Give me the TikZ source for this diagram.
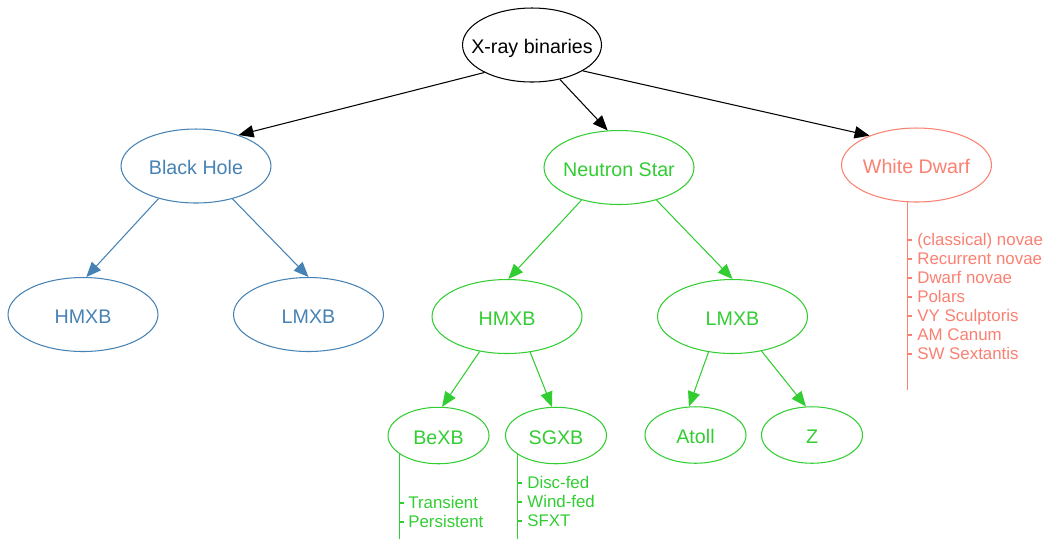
\documentclass[tikz,border=0pt]{standalone}
\usepackage{fontspec}
\setmainfont{Liberation Sans}
\usetikzlibrary{shapes.geometric}
\usetikzlibrary{arrows.meta}
\definecolor{bhblue}{RGB}{70,130,180}
\definecolor{nsgreen}{RGB}{50,205,50}
\definecolor{wdred}{RGB}{250,128,114}
\tikzset{
    class/.style={
        ellipse, draw,
        line width=0.6pt,
        inner sep=0pt, inner xsep=-8pt,
        minimum width=3cm, minimum height=1.48cm,
        text height=10pt, text depth=0pt,
        font=\fontsize{11.2}{13}\selectfont},
    subclass/.style={
        class,
        minimum width=2.02cm, minimum height=1.13cm},
    item/.style={
        anchor=west, inner sep=0pt,
        text height=6.8pt, text depth=0pt,
        font=\fontsize{9.6}{11}\selectfont},
    every edge/.style={
        draw,
        ->,>={Triangle[length=8.5pt,width=7pt]},
        line width=0.6pt}}

\begin{document}
\begin{tikzpicture}[x=0.02cm, y=-0.02cm]
        \useasboundingbox (0,0) rectangle (1050,539);

        \node[class, minimum width=2.78cm] (xrb) at (532,45) {X-ray binaries};
        \node[class, bhblue] (bh) at (196,166) {Black Hole};
        \node[class, nsgreen] (ns) at (619,167.5) {Neutron Star};
        \node[class, wdred] (wd) at (916.5,165) {White Dwarf};

        \node[class, bhblue] (bhh) at (83,314.5) {HMXB};
        \node[class, bhblue] (bhl) at (308.5,314.5) {LMXB};
        \node[class, nsgreen] (nsh) at (507,316.5) {HMXB};
        \node[class, nsgreen] (nsl) at (732.5,316.5) {LMXB};

        \node[subclass, nsgreen] (bexb) at (438.5,435.5) {BeXB};
        \node[subclass, nsgreen] (sgxb) at (556,435.5) {SGXB};
        \node[subclass, nsgreen] (atoll) at (695.5,435) {Atoll};
        \node[subclass, nsgreen] (z) at (812,435) {Z};

        \draw (xrb.210) edge (bh.36);
        \draw (xrb.-51) edge (ns.107);
        \draw (xrb.-27) edge (wd.148);

        \draw (bh.221) edge[bhblue] (bhh.85);
        \draw (bh.-42) edge[bhblue] (bhl.90);

        \draw (ns.221) edge[nsgreen] (nsh.88);
        \draw (ns.-41) edge[nsgreen] (nsl.90);

        \draw (nsh.232) edge[nsgreen] (bexb.83);
        \draw (nsh.-57) edge[nsgreen] (sgxb.98);
        \draw (nsl.236) edge[nsgreen] (atoll.103);
        \draw (nsl.-50) edge[nsgreen] (z.102);

        % lists of sub-types
        \coordinate (bottom) at (0,539);
        \coordinate (wdend) at (0,390);

        \draw[wdred, line width=0.6pt] (wd.256) -- (wd.256 |- wdend);
        \foreach \t [count=\i] in {(classical) novae, Recurrent novae, Dwarf novae,
                Polars, VY Sculptoris, AM Canum, SW Sextantis}{
            \node[item, wdred] (wdi\i) at (917, 221+19*\i) {\t};
            \draw[wdred, line width=0.6pt] (wd.256 |- wdi\i.west) -- ++(4.5,0);
        }

        \draw[nsgreen, line width=0.6pt] (bexb.206) -- (bexb.206 |- bottom);
        \foreach \t [count=\i] in {Transient, Persistent}{
            \node[item, nsgreen] (bei\i) at (408, 484+19*\i) {\t};
            \draw[nsgreen, line width=0.6pt] (bexb.206 |- bei\i.west) -- ++(4.5,0);
        }

        \draw[nsgreen, line width=0.6pt] (sgxb.206) -- (sgxb.206 |- bottom);
        \foreach \t [count=\i] in {Disc-fed, Wind-fed, SFXT}{
            \node[item, nsgreen] (sgi\i) at (527, 464+19*\i) {\t};
            \draw[nsgreen, line width=0.6pt] (sgxb.206 |- sgi\i.west) -- ++(4.5,0);
        }
\end{tikzpicture}
\end{document}
